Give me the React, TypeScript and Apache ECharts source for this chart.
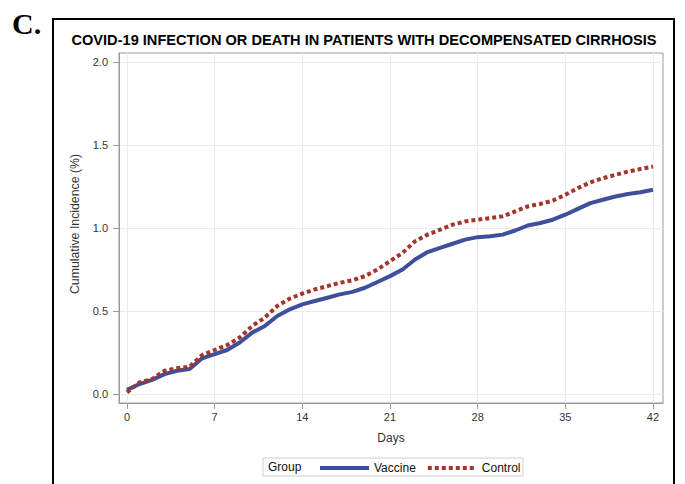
import React, { useEffect, useRef } from "react";
import * as echarts from "echarts";

const days = [0, 1, 2, 3, 4, 5, 6, 7, 8, 9, 10, 11, 12, 13, 14, 15, 16, 17, 18, 19, 20, 21, 22, 23, 24, 25, 26, 27, 28, 29, 30, 31, 32, 33, 34, 35, 36, 37, 38, 39, 40, 41, 42];
const vaccine = [0.025, 0.06, 0.085, 0.12, 0.14, 0.15, 0.215, 0.24, 0.265, 0.31, 0.37, 0.41, 0.47, 0.51, 0.54, 0.56, 0.58, 0.6, 0.615, 0.64, 0.675, 0.71, 0.75, 0.81, 0.855, 0.88, 0.905, 0.93, 0.945, 0.95, 0.96, 0.985, 1.015, 1.03, 1.05, 1.08, 1.115, 1.15, 1.17, 1.19, 1.205, 1.215, 1.23];
const control = [0.01, 0.07, 0.09, 0.14, 0.155, 0.165, 0.235, 0.265, 0.295, 0.34, 0.41, 0.46, 0.53, 0.575, 0.605, 0.63, 0.65, 0.67, 0.685, 0.71, 0.75, 0.8, 0.85, 0.92, 0.96, 0.99, 1.02, 1.04, 1.05, 1.06, 1.07, 1.1, 1.13, 1.145, 1.165, 1.2, 1.24, 1.275, 1.3, 1.32, 1.34, 1.355, 1.37];
const xTicks = [0, 7, 14, 21, 28, 35, 42];
const yTicks = [0, 0.5, 1, 1.5, 2];

const FONT = '"Liberation Sans", Arial, sans-serif';
const AXIS_GRAY = "#9a9a9a";

export default function App() {
  const ref = useRef<HTMLDivElement>(null);
  useEffect(() => {
    const chart = echarts.init(ref.current!, null, { renderer: "svg" });
    chart.setOption({
      animation: false,
      backgroundColor: "#fff",
      grid: {
        left: 119,
        top: 53,
        right: 22,
        bottom: 81,
        show: true,
        borderColor: AXIS_GRAY,
        borderWidth: 1,
        backgroundColor: "#fff",
      },
      xAxis: {
        type: "value",
        min: -0.64,
        max: 42.8,
        axisLine: { show: true, onZero: false, lineStyle: { color: AXIS_GRAY } },
        axisTick: { show: true, customValues: xTicks, length: 6, lineStyle: { color: AXIS_GRAY } },
        axisLabel: { customValues: xTicks, color: "#333", fontSize: 11, fontFamily: FONT, margin: 8 },
        splitLine: { show: true, lineStyle: { color: "#ebebeb", width: 1 } },
      },
      yAxis: {
        type: "value",
        min: -0.0542,
        max: 2.0542,
        axisLine: { show: true, onZero: false, lineStyle: { color: AXIS_GRAY } },
        axisTick: { show: true, customValues: yTicks, length: 6, lineStyle: { color: AXIS_GRAY } },
        axisLabel: {
          customValues: yTicks,
          color: "#333",
          fontSize: 11,
          fontFamily: FONT,
          margin: 11,
          formatter: (v: number) => v.toFixed(1),
        },
        splitLine: { show: true, lineStyle: { color: "#ebebeb", width: 1 } },
      },
      legend: {
        data: ["Vaccine", "Control"],
        left: 318,
        top: 462,
        itemWidth: 49,
        itemHeight: 10,
        itemGap: 10,
        padding: 0,
        itemStyle: { opacity: 0 },
        lineStyle: { width: 4 },
        textStyle: { fontSize: 12, color: "#111", fontFamily: FONT },
      },
      series: [
        {
          name: "Vaccine",
          type: "line",
          data: days.map((d, i) => [d, vaccine[i]]),
          symbol: "none",
          showSymbol: false,
          lineStyle: { color: "#3F4F9C", width: 4 },
          itemStyle: { color: "#3F4F9C" },
          emphasis: { disabled: true },
        },
        {
          name: "Control",
          type: "line",
          data: days.map((d, i) => [d, control[i]]),
          symbol: "none",
          showSymbol: false,
          lineStyle: { color: "#A3352B", width: 4, type: [4, 3], cap: "butt" },
          itemStyle: { color: "#A3352B" },
          emphasis: { disabled: true },
        },
      ],
      graphic: [
        {
          type: "rect",
          shape: { x: 53, y: 19, width: 621, height: 480 },
          style: { fill: "none", stroke: "#000", lineWidth: 2 },
          silent: true,
        },
        {
          type: "text",
          x: 12,
          y: 23,
          style: {
            text: "C.",
            fontSize: 30,
            fontWeight: "bold",
            fontFamily: '"Liberation Serif", "Times New Roman", serif',
            fill: "#000",
            align: "left",
            verticalAlign: "middle",
          },
        },
        {
          type: "text",
          x: 364,
          y: 40,
          style: {
            text: "COVID-19 INFECTION OR DEATH IN PATIENTS WITH DECOMPENSATED CIRRHOSIS",
            fontSize: 14.6,
            fontWeight: "bold",
            fontFamily: FONT,
            fill: "#000",
            align: "center",
            verticalAlign: "middle",
          },
        },
        {
          type: "text",
          x: 75,
          y: 224,
          rotation: Math.PI / 2,
          style: {
            text: "Cumulative Incidence (%)",
            fontSize: 12.3,
            fontFamily: FONT,
            fill: "#333",
            align: "center",
            verticalAlign: "middle",
          },
        },
        {
          type: "text",
          x: 391,
          y: 438,
          style: {
            text: "Days",
            fontSize: 12,
            fontFamily: FONT,
            fill: "#333",
            align: "center",
            verticalAlign: "middle",
          },
        },
        {
          type: "rect",
          shape: { x: 263, y: 458, width: 260, height: 18 },
          style: { fill: "none", stroke: "#cfcfcf", lineWidth: 1 },
          silent: true,
        },
        {
          type: "text",
          x: 268,
          y: 467,
          style: {
            text: "Group",
            fontSize: 12,
            fontFamily: FONT,
            fill: "#111",
            align: "left",
            verticalAlign: "middle",
          },
        },
      ],
    });
    return () => chart.dispose();
  }, []);
  return (
    <div
      ref={ref}
      style={{ position: "fixed", left: 0, top: 0, width: 685, height: 484, background: "#fff" }}
    />
  );
}
